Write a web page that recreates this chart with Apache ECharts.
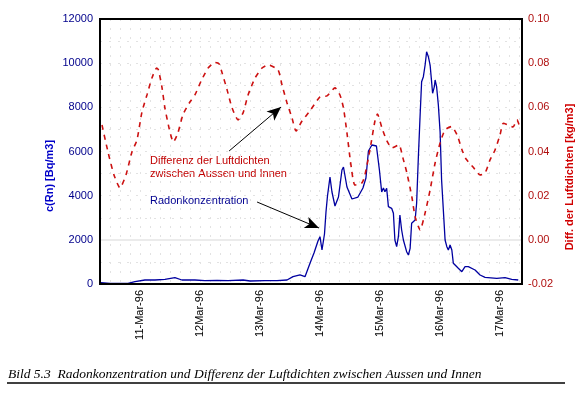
<!DOCTYPE html>
<html>
<head>
<meta charset="utf-8">
<script src="https://cdn.jsdelivr.net/npm/echarts@6/dist/echarts.min.js"></script>
<style>
html,body{margin:0;padding:0;background:#fff;}
#chart{width:587px;height:393px;}
</style>
</head>
<body>
<div id="chart"></div>
<script>
// Time axis: hours since 10-Mar-96 00:00
const tickHours = [24, 48, 72, 96, 120, 144, 168];
const tickLabels = ['11-Mar-96', '12Mar-96', '13Mar-96', '14Mar-96', '15Mar-96', '16Mar-96', '17Mar-96'];

// Radon concentration c(Rn) [Bq/m3]
const radonHours = [
  8.4,12.0,19.2,22.0,26.0,30.0,34.0,38.0,40.8,46.0,
  50.0,54.9,59.3,65.3,68.1,74.1,78.9,82.9,85.3,88.1,
  90.1,92.1,93.7,95.3,96.1,96.9,97.9,98.5,99.1,100.1,
  100.9,102.1,103.5,104.9,105.5,106.9,108.9,111.3,113.3,114.5,
  115.5,116.9,118.7,119.9,120.8,121.5,122.1,122.8,123.5,124.8,
  125.5,126.1,126.8,127.5,128.1,128.8,129.5,130.8,131.5,132.2,
  132.8,134.2,134.8,135.5,136.2,136.8,137.5,138.2,138.8,139.5,
  140.2,140.8,141.2,141.9,142.2,142.8,143.5,144.2,144.8,146.2,
  146.9,147.5,148.2,148.9,149.5,151.5,152.9,154.2,155.5,158.2,
  160.2,162.2,166.9,170.2,172.9,175.5
];
const radonValues = [
  60,32,23,104,181,181,213,285,181,181,
  149,158,149,181,136,149,149,181,331,408,
  331,937,1404,1947,2142,1540,2264,3260,3985,4845,
  4166,3532,3939,5162,5298,4392,3849,3939,4347,4800,
  6022,6294,6249,5162,4166,4347,4179,4333,3500,3428,
  3201,1992,1689,2142,3124,2445,1992,1463,1313,1617,
  2748,2898,3654,5764,7652,9160,9387,9916,10519,10292,
  9916,9160,8635,8934,9237,8934,8105,6896,4709,1992,
  1689,1540,1766,1540,937,711,557,783,783,634,
  408,303,258,285,213,181
];

// Difference of air densities outside/inside [kg/m3]
const diffHours = [
  8.8,11.2,13.6,16.0,18.4,20.8,22.8,24.8,26.8,28.8,
  30.7,31.4,32.8,34.0,36.0,37.4,39.2,41.2,44.0,46.0,
  48.7,51.3,54.1,55.7,56.9,58.9,60.9,63.3,65.3,67.3,
  70.1,72.9,75.3,79.3,80.9,82.9,84.9,86.5,88.9,92.1,
  96.1,98.9,102.1,104.1,105.5,106.9,108.5,110.1,112.9,114.1,
  116.1,118.1,119.1,120.9,122.9,124.9,127.7,129.3,130.9,132.9,
  134.2,136.2,138.2,140.2,142.2,144.2,146.2,148.8,151.0,153.0,
  154.6,157.4,160.2,162.2,164.2,166.2,168.2,169.5,171.4,173.4,
  175.0,176.2
];
const diffValues = [
  0.052,0.0398,0.0294,0.0235,0.0294,0.0398,0.0452,0.0579,0.0656,0.0733,
  0.0778,0.0769,0.0692,0.0597,0.0489,0.0443,0.0484,0.0566,0.0624,0.0656,
  0.0724,0.0778,0.0803,0.0797,0.0756,0.0679,0.0597,0.0543,0.0575,0.0656,
  0.0733,0.0778,0.0792,0.0769,0.0701,0.062,0.0552,0.0493,0.0538,0.0584,
  0.0647,0.0652,0.0688,0.0656,0.0597,0.0484,0.0339,0.0248,0.0258,0.0294,
  0.0407,0.0538,0.057,0.0507,0.0448,0.0416,0.043,0.0371,0.0303,0.0194,
  0.0104,0.0045,0.0122,0.0226,0.0348,0.0439,0.0498,0.0513,0.0475,0.0407,
  0.0366,0.033,0.0294,0.0303,0.0362,0.0407,0.0475,0.0528,0.052,0.0511,
  0.0543,0.0507
];

// Annotation arrows in data space [hour, Bq/m3]
const arrowDiff = [[59.7, 6023], [80.5, 8015]];
const arrowRadon = [[70.9, 3713], [95.7, 2536]];

const radonData = radonHours.map((h, i) => [h, radonValues[i]]);
const diffData = diffHours.map((h, i) => [h, diffValues[i]]);

const FONT = '"Liberation Sans", Arial, sans-serif';
const gridDots = { color: '#e2e2e2', type: [2, 7], width: 1 };

const chart = echarts.init(document.getElementById('chart'), null, { renderer: 'canvas' });
chart.setOption({
  animation: false,
  backgroundColor: '#fff',
  textStyle: { fontFamily: FONT },
  grid: { left: 100, right: 65, top: 19, bottom: 109, show: false },
  xAxis: {
    type: 'value', min: 8, max: 177, interval: 4,
    axisLine: { show: false }, axisTick: { show: false },
    axisLabel: {
      rotate: 90, margin: 6, fontSize: 11, color: '#000', fontFamily: FONT,
      formatter: v => { const i = tickHours.indexOf(Math.round(v)); return i >= 0 ? tickLabels[i] : ''; }
    },
    splitLine: { show: true, lineStyle: gridDots }
  },
  yAxis: [
    {
      type: 'value', min: 0, max: 12000, interval: 2000, position: 'left',
      axisLine: { show: false }, axisTick: { show: false },
      axisLabel: { color: '#00008b', fontSize: 11, margin: 7, fontFamily: FONT, formatter: v => String(v) },
      splitLine: { show: true, lineStyle: gridDots },
      minorTick: { show: false, splitNumber: 2 },
      minorSplitLine: { show: true, lineStyle: gridDots }
    },
    {
      type: 'value', min: -0.02, max: 0.10, interval: 0.02, position: 'right',
      axisLine: { show: false }, axisTick: { show: false },
      axisLabel: { color: '#b01010', fontSize: 11, margin: 6, fontFamily: FONT, formatter: v => v.toFixed(2) },
      splitLine: { show: false }
    }
  ],
  series: [
    {
      name: 'Radonkonzentration', type: 'line', yAxisIndex: 0, data: radonData,
      showSymbol: false, symbol: 'none',
      lineStyle: { color: '#0000a0', width: 1.3 },
      z: 3,
      markLine: {
        silent: true, symbol: ['none', 'arrow'], symbolSize: [9, 14],
        label: { show: false },
        lineStyle: { color: '#000', width: 1, type: 'solid' },
        data: [
          [{ coord: arrowDiff[0] }, { coord: arrowDiff[1] }],
          [{ coord: arrowRadon[0] }, { coord: arrowRadon[1] }]
        ]
      }
    },
    {
      name: 'Differenz der Luftdichten', type: 'line', yAxisIndex: 1, data: diffData,
      showSymbol: false, symbol: 'none', smooth: 0.2,
      lineStyle: { color: '#cc1010', width: 1.6, type: [5, 5] },
      z: 4,
      markLine: {
        silent: true, symbol: 'none', label: { show: false },
        lineStyle: { color: '#ebebeb', width: 2, type: 'solid' },
        data: [{ yAxis: 0 }],
        z: 1
      }
    }
  ],
  graphic: [
    { type: 'rect', z: 100, shape: { x: 100, y: 19, width: 422, height: 265 },
      style: { fill: 'none', stroke: '#000', lineWidth: 2 } },
    { type: 'text', x: 50, y: 176, rotation: Math.PI / 2,
      style: { text: 'c(Rn) [Bq/m3]', fill: '#0000c8', font: 'bold 11px ' + FONT, align: 'center', verticalAlign: 'middle', textAlign: 'center', textVerticalAlign: 'middle' } },
    { type: 'text', x: 570, y: 177, rotation: Math.PI / 2,
      style: { text: 'Diff. der Luftdichten [kg/m3]', fill: '#d00000', font: 'bold 11px ' + FONT, align: 'center', verticalAlign: 'middle', textAlign: 'center', textVerticalAlign: 'middle' } },
    { type: 'text', x: 150, y: 161,
      style: { text: 'Differenz der Luftdichten', fill: '#c00000', font: '11px ' + FONT, align: 'left', verticalAlign: 'middle', textVerticalAlign: 'middle' } },
    { type: 'text', x: 150, y: 174,
      style: { text: 'zwischen Aussen und Innen', fill: '#c00000', font: '11px ' + FONT, align: 'left', verticalAlign: 'middle', textVerticalAlign: 'middle' } },
    { type: 'text', x: 150, y: 201,
      style: { text: 'Radonkonzentration', fill: '#000090', font: '11px ' + FONT, align: 'left', verticalAlign: 'middle', textVerticalAlign: 'middle' } },
    { type: 'text', x: 8, y: 374,
      style: { text: 'Bild 5.3  Radonkonzentration und Differenz der Luftdichten zwischen Aussen und Innen', fill: '#000', font: 'italic 13.5px "Liberation Serif", "Times New Roman", serif', align: 'left', verticalAlign: 'middle', textVerticalAlign: 'middle' } },
    { type: 'line', shape: { x1: 7, y1: 383, x2: 565, y2: 383 }, style: { stroke: '#000', lineWidth: 1.5 } }
  ]
});
</script>
</body>
</html>
